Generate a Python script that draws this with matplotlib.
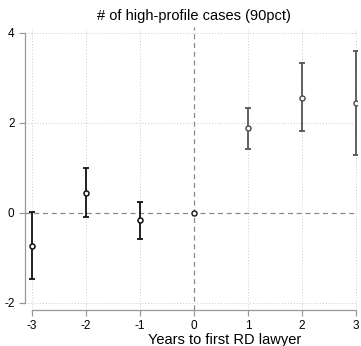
import matplotlib
matplotlib.use('Agg')
import matplotlib.pyplot as plt

# Event-study coefficients
years = [-3, -2, -1, 0, 1, 2, 3]
coef = [-0.73, 0.44, -0.17, 0.0, 1.88, 2.56, 2.44]
lower = [-1.47, -0.09, -0.58, 0.0, 1.42, 1.81, 1.28]
upper = [0.02, 0.99, 0.23, 0.0, 2.34, 3.32, 3.59]
bar_colors = ['#111111', '#111111', '#111111', '#222222', '#555555', '#555555', '#555555']

xticks = [-3, -2, -1, 0, 1, 2, 3]
yticks = [-2, 0, 2, 4]

plt.rcParams['font.family'] = ['Liberation Sans', 'DejaVu Sans']

fig = plt.figure(figsize=(3.61, 3.46), dpi=100)
ax = fig.add_axes([25 / 361, 36 / 346, 332 / 361, 283 / 346])

# grid: dotted at ticks, dashed reference lines at zero
for x in xticks:
    if x != 0:
        ax.axvline(x, color='#cccccc', linestyle=(0, (1, 2)), linewidth=0.7, zorder=0)
for y in yticks:
    if y != 0:
        ax.axhline(y, color='#cccccc', linestyle=(0, (1, 2)), linewidth=0.7, zorder=0)
ax.axvline(0, color='#888888', linestyle=(0, (4, 3)), linewidth=0.9, zorder=1)
ax.axhline(0, color='#888888', linestyle=(0, (4, 3)), linewidth=0.9, zorder=1)

for i in range(len(years)):
    c = bar_colors[i]
    if years[i] != 0:
        ax.errorbar(years[i], coef[i],
                    yerr=[[coef[i] - lower[i]], [upper[i] - coef[i]]],
                    fmt='none', ecolor=c, elinewidth=1.3, capsize=2.5,
                    capthick=1.3, zorder=3)
    ax.plot(years[i], coef[i], 'o', ms=3.6, mfc='white', mec=c, mew=1.1, zorder=4)

ax.set_xlim(-3.13, 3.02)
ax.set_ylim(-2.16, 4.13)
ax.set_xticks(xticks)
ax.set_yticks(yticks)
ax.set_xticklabels([str(x) for x in xticks])
ax.set_yticklabels([str(y) for y in yticks])

for s in ['top', 'right']:
    ax.spines[s].set_visible(False)
ax.spines['left'].set_bounds(-2, 4)
ax.spines['bottom'].set_bounds(-3, 3)
for s in ['left', 'bottom']:
    ax.spines[s].set_color('#999999')
    ax.spines[s].set_linewidth(0.9)
ax.tick_params(axis='both', colors='#999999', length=4, width=0.9,
               labelsize=8.5, labelcolor='black')

ax.set_title('# of high-profile cases (90pct)', fontsize=10.5, pad=5, x=0.51)
ax.set_xlabel('Years to first RD lawyer', fontsize=10.5)
ax.xaxis.set_label_coords(0.6, -0.08)

fig.savefig('out.png', dpi=100)
